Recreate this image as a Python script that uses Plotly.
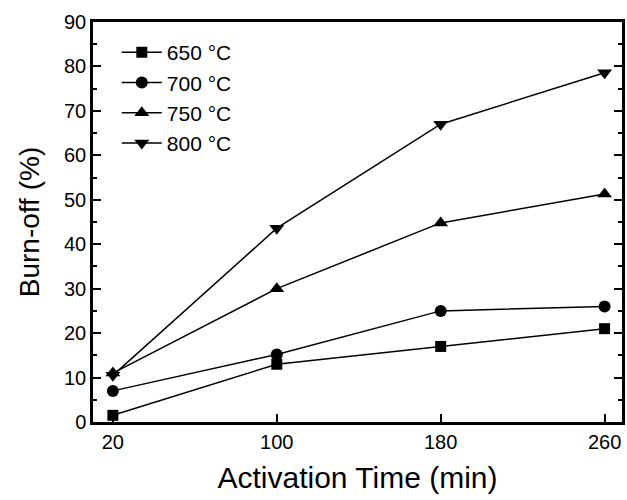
import plotly.graph_objects as go

time_min = [20, 100, 180, 260]
burn_650 = [1.5, 13.0, 17.0, 21.0]
burn_700 = [7.0, 15.2, 25.0, 26.0]
burn_750 = [11.0, 30.0, 44.8, 51.3]
burn_800 = [10.5, 43.6, 67.0, 78.6]
series_names = ["650 \u00b0C", "700 \u00b0C", "750 \u00b0C", "800 \u00b0C"]
symbols = ["square", "circle", "triangle-up", "triangle-down"]
sizes = [11, 12, 13, 13]

fig = go.Figure()
for name, vals, sym, sz in zip(series_names, [burn_650, burn_700, burn_750, burn_800], symbols, sizes):
    fig.add_trace(go.Scatter(
        x=time_min, y=vals, name=name, mode="lines+markers",
        line=dict(color="black", width=1.5),
        marker=dict(symbol=sym, size=sz, color="black"),
    ))

font_family = "Liberation Sans, Arial, sans-serif"
fig.update_layout(
    width=627, height=500,
    margin=dict(l=93, r=2, t=22, b=78),
    paper_bgcolor="white", plot_bgcolor="white",
    font=dict(family=font_family, color="black"),
    showlegend=True,
    legend=dict(x=0.045, y=0.975, xanchor="left", yanchor="top",
                font=dict(size=21), bgcolor="rgba(0,0,0,0)",
                tracegroupgap=0, itemwidth=40),
    xaxis=dict(
        range=[10.3, 268.5], tickvals=time_min,
        ticks="inside", ticklen=8, tickwidth=1.5, tickcolor="black",
        showline=True, linewidth=2.5, linecolor="black", mirror=True,
        showgrid=False, zeroline=False,
        tickfont=dict(size=20),
        title=dict(text="Activation Time (min)", font=dict(size=30), standoff=16),
    ),
    yaxis=dict(
        range=[0, 90], tickvals=[0, 10, 20, 30, 40, 50, 60, 70, 80, 90],
        ticks="inside", ticklen=8, tickwidth=1.5, tickcolor="black",
        minor=dict(ticks="inside", ticklen=4, tickwidth=1.5, tickcolor="black", dtick=5),
        showline=True, linewidth=2.5, linecolor="black", mirror="ticks",
        showgrid=False, zeroline=False,
        tickfont=dict(size=20),
        title=dict(text="Burn-off (%)", font=dict(size=28), standoff=17),
    ),
)

fig.write_html("out.html")
